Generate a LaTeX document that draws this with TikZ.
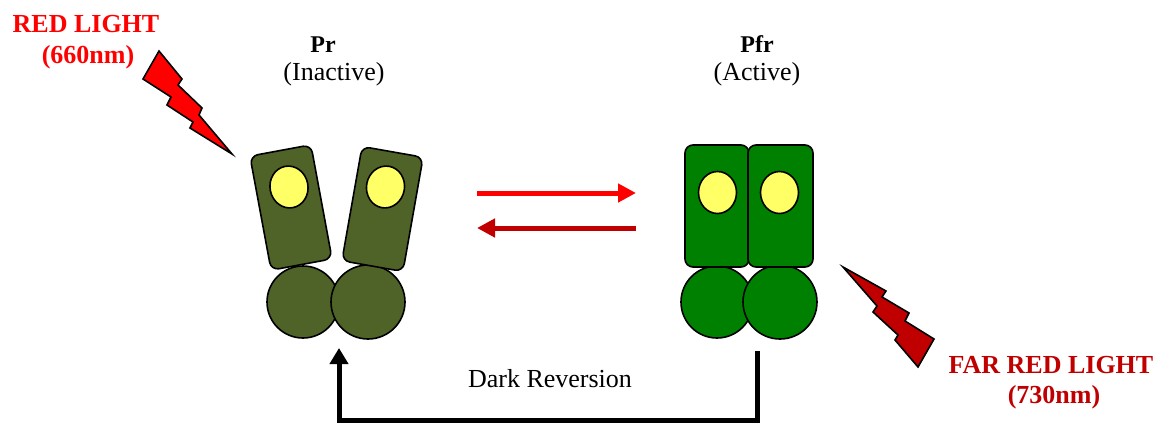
\documentclass[tikz,border=0pt]{standalone}
\usepackage{fontspec}
\setmainfont{Liberation Serif}
\usetikzlibrary{arrows.meta,shapes.geometric}
\definecolor{lightred}{HTML}{FF0000}
\definecolor{farred}{HTML}{C00000}
\definecolor{olivegreen}{HTML}{4F6228}
\definecolor{activegreen}{HTML}{008000}
\definecolor{chromo}{HTML}{FFFF66}
\begin{document}
\begin{tikzpicture}[x=1pt,y=-1pt,
  outline/.style={draw=black,line width=1.6pt},
  lobe/.style={outline,rectangle,rounded corners=8pt,minimum width=62pt,minimum height=116pt,inner sep=0pt},
  hinge/.style={outline,circle,inner sep=0pt},
  chromophore/.style={outline,ellipse,fill=chromo,minimum width=38pt,minimum height=42pt,inner sep=0pt},
  bolt/.style={outline,line join=miter},
  bigtext/.style={font=\fontsize{26}{30}\selectfont\bfseries,anchor=base,inner sep=0pt},
  labeltext/.style={font=\fontsize{24}{28}\selectfont\bfseries,anchor=base,inner sep=0pt},
  subtext/.style={font=\fontsize{26}{30}\selectfont,anchor=base,inner sep=0pt},
  thick arrow/.style={line width=5pt,-{Triangle[width=18pt,length=18pt]}}
]
\useasboundingbox (0,0) rectangle (1164,424);

% Light labels
\node[bigtext,text=lightred] (rl) at (86,32) {RED LIGHT};
\node[bigtext,text=lightred] (rlnm) at (88,63) {(660nm)};
\node[bigtext,text=farred] (frl) at (1051,373) {FAR RED LIGHT};
\node[bigtext,text=farred] (frlnm) at (1054,403) {(730nm)};

% Form labels
\node[labeltext] (prlab) at (323,52) {Pr};
\node[subtext] (prsub) at (334,80) {(Inactive)};
\node[labeltext] (pfrlab) at (757,52) {Pfr};
\node[subtext] (pfrsub) at (757,80) {(Active)};

% Lightning bolts
\draw[bolt,fill=lightred] (159,51) -- (182,79) -- (178,85) -- (202,108) -- (199,115)
  -- (232,154) -- (190,128) -- (193,122) -- (167,105) -- (171,97) -- (143,79) -- cycle;
\draw[bolt,fill=farred] (843,267) -- (886,291) -- (882,297) -- (909,313) -- (905,321)
  -- (934,339) -- (918,367) -- (895,340) -- (898,335) -- (873,312) -- (877,306) -- cycle;

% Pr (inactive) dimer
\node[hinge,fill=olivegreen,minimum size=72pt] (prlc) at (303,302) {};
\node[hinge,fill=olivegreen,minimum size=74pt] (prrc) at (368,302) {};
\node[lobe,fill=olivegreen,rotate=10.5] (prl) at (291,207.5) {};
\node[lobe,fill=olivegreen,rotate=-10] (prr) at (382.5,209) {};
\node[chromophore,rotate=10.5] (prle) at (289,187) {};
\node[chromophore,rotate=-10] (prre) at (385.5,187) {};

% Pfr (active) dimer
\node[hinge,fill=activegreen,minimum size=72pt] (pfrlc) at (717,302) {};
\node[hinge,fill=activegreen,minimum size=74pt] (pfrrc) at (780,302) {};
\node[lobe,fill=activegreen,minimum width=64pt,minimum height=122pt] (pfrl) at (717,206) {};
\node[lobe,fill=activegreen,minimum width=65pt,minimum height=122pt] (pfrr) at (780.5,206) {};
\node[chromophore] (pfrle) at (717.5,192.5) {};
\node[chromophore] (pfrre) at (779.5,192.5) {};

% Photoconversion arrows
\coordinate (fwdS) at (477,193);
\coordinate (fwdE) at (636,193);
\coordinate (revS) at (636,228);
\coordinate (revE) at (477,228);
\draw[thick arrow,draw=lightred,fill=lightred] (fwdS) -- (fwdE);
\draw[thick arrow,draw=farred,fill=farred] (revS) -- (revE);

% Dark reversion path
\coordinate (drS) at (757,351);
\coordinate (drC1) at (757,420);
\coordinate (drC2) at (339,420);
\coordinate (drE) at (339,348);
\draw[line width=5pt,line join=miter,-{Triangle[width=18pt,length=16pt]}] (drS) -- (drC1) -- (drC2) -- (drE);
\node[subtext] (drlab) at (550,387) {Dark Reversion};
\end{tikzpicture}
\end{document}
